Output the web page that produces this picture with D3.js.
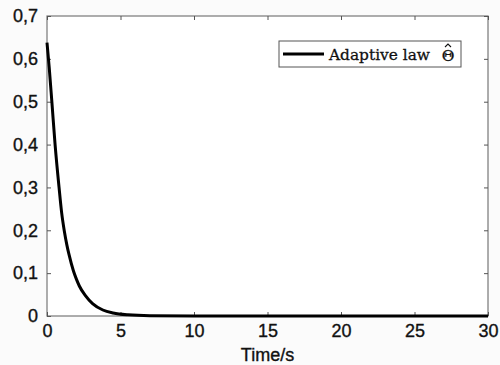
<!DOCTYPE html>
<html>
<head>
<meta charset="utf-8">
<script src="https://cdn.jsdelivr.net/npm/d3@7"></script>
<style>
  html, body { margin: 0; padding: 0; background: #fbfbfb; }
  svg { display: block; }
</style>
</head>
<body>
<script>
// values
const timeS = [0, 0.15, 0.33, 0.55, 0.82, 1.0, 1.18, 1.35, 1.5, 1.8, 2.0, 2.2, 2.6, 3.1, 3.8, 4.5, 5.5, 7, 10, 15, 20, 25, 30];
const theta = [0.638, 0.58, 0.5, 0.4, 0.3, 0.24, 0.198, 0.166, 0.143, 0.105, 0.086, 0.07, 0.048, 0.029, 0.014, 0.007, 0.0027, 0.0006, 0, 0, 0, 0, 0];
const xTicks = [0, 5, 10, 15, 20, 25, 30];
const yTicks = [0, 0.1, 0.2, 0.3, 0.4, 0.5, 0.6, 0.7];

const width = 500, height = 365;
const margin = { top: 16, right: 12, bottom: 49, left: 47 };

const svg = d3.select('body').append('svg')
  .attr('width', width)
  .attr('height', height);

const x = d3.scaleLinear().domain([0, 30]).range([margin.left, width - margin.right]);
const y = d3.scaleLinear().domain([0, 0.7]).range([height - margin.bottom, margin.top]);

// plot area
svg.append('rect')
  .attr('x', x(0)).attr('y', y(0.7))
  .attr('width', x(30) - x(0)).attr('height', y(0) - y(0.7))
  .attr('fill', '#fff').attr('stroke', '#777').attr('stroke-width', 1.2);

const fmt = d => d === 0 ? '0' : d3.format('.1f')(d).replace('.', ',');
const tickFont = 'Liberation Sans, Arial, sans-serif';

// inward ticks, all four sides
const axB = svg.append('g').attr('transform', `translate(0,${y(0)})`)
  .call(d3.axisBottom(x).tickValues(xTicks).tickSize(-4).tickPadding(8).tickFormat(d3.format('d')));
const axT = svg.append('g').attr('transform', `translate(0,${y(0.7)})`)
  .call(d3.axisTop(x).tickValues(xTicks).tickSize(-4).tickFormat(''));
const axL = svg.append('g').attr('transform', `translate(${x(0)},0)`)
  .call(d3.axisLeft(y).tickValues(yTicks).tickSize(-4).tickPadding(9).tickFormat(fmt));
const axR = svg.append('g').attr('transform', `translate(${x(30)},0)`)
  .call(d3.axisRight(y).tickValues(yTicks).tickSize(-4).tickFormat(''));

[axB, axT, axL, axR].forEach(g => {
  g.select('.domain').remove();
  g.selectAll('.tick line').attr('stroke', '#555');
  g.selectAll('text')
    .attr('fill', '#111').attr('stroke', '#111').attr('stroke-width', 0.35)
    .attr('font-family', tickFont).attr('font-size', 18);
});
axB.selectAll('text').attr('dy', '0.72em');

// x label
svg.append('text')
  .attr('x', (x(0) + x(30)) / 2)
  .attr('y', 361)
  .attr('text-anchor', 'middle')
  .attr('font-family', tickFont)
  .attr('font-size', 18)
  .attr('fill', '#111').attr('stroke', '#111').attr('stroke-width', 0.35)
  .text('Time/s');

// curve
const line = d3.line()
  .x((d, i) => x(timeS[i]))
  .y(d => y(d))
  .curve(d3.curveMonotoneX);

svg.append('path')
  .datum(theta)
  .attr('fill', 'none')
  .attr('stroke', '#000')
  .attr('stroke-width', 3)
  .attr('d', line);

// legend
const lg = svg.append('g').attr('transform', 'translate(279,41)');
lg.append('rect')
  .attr('width', 182).attr('height', 26)
  .attr('fill', '#fff').attr('stroke', '#555').attr('stroke-width', 1);
lg.append('line')
  .attr('x1', 4).attr('x2', 45).attr('y1', 13).attr('y2', 13)
  .attr('stroke', '#000').attr('stroke-width', 3);
const serif = 'DejaVu Serif, Liberation Serif, serif';
lg.append('text')
  .attr('x', 50).attr('y', 19)
  .attr('font-family', serif)
  .attr('font-size', 15.5)
  .attr('textLength', 101).attr('lengthAdjust', 'spacingAndGlyphs')
  .attr('fill', '#111').attr('stroke', '#111').attr('stroke-width', 0.3)
  .text('Adaptive law');
lg.append('text')
  .attr('x', 169).attr('y', 20)
  .attr('text-anchor', 'middle')
  .attr('font-family', serif)
  .attr('font-size', 15.5)
  .attr('fill', '#111').attr('stroke', '#111').attr('stroke-width', 0.3)
  .text('Θ');
// hat over theta
lg.append('path')
  .attr('d', 'M166,6 L169,3 L172,6')
  .attr('fill', 'none')
  .attr('stroke', '#111')
  .attr('stroke-width', 1.1);
</script>
</body>
</html>
